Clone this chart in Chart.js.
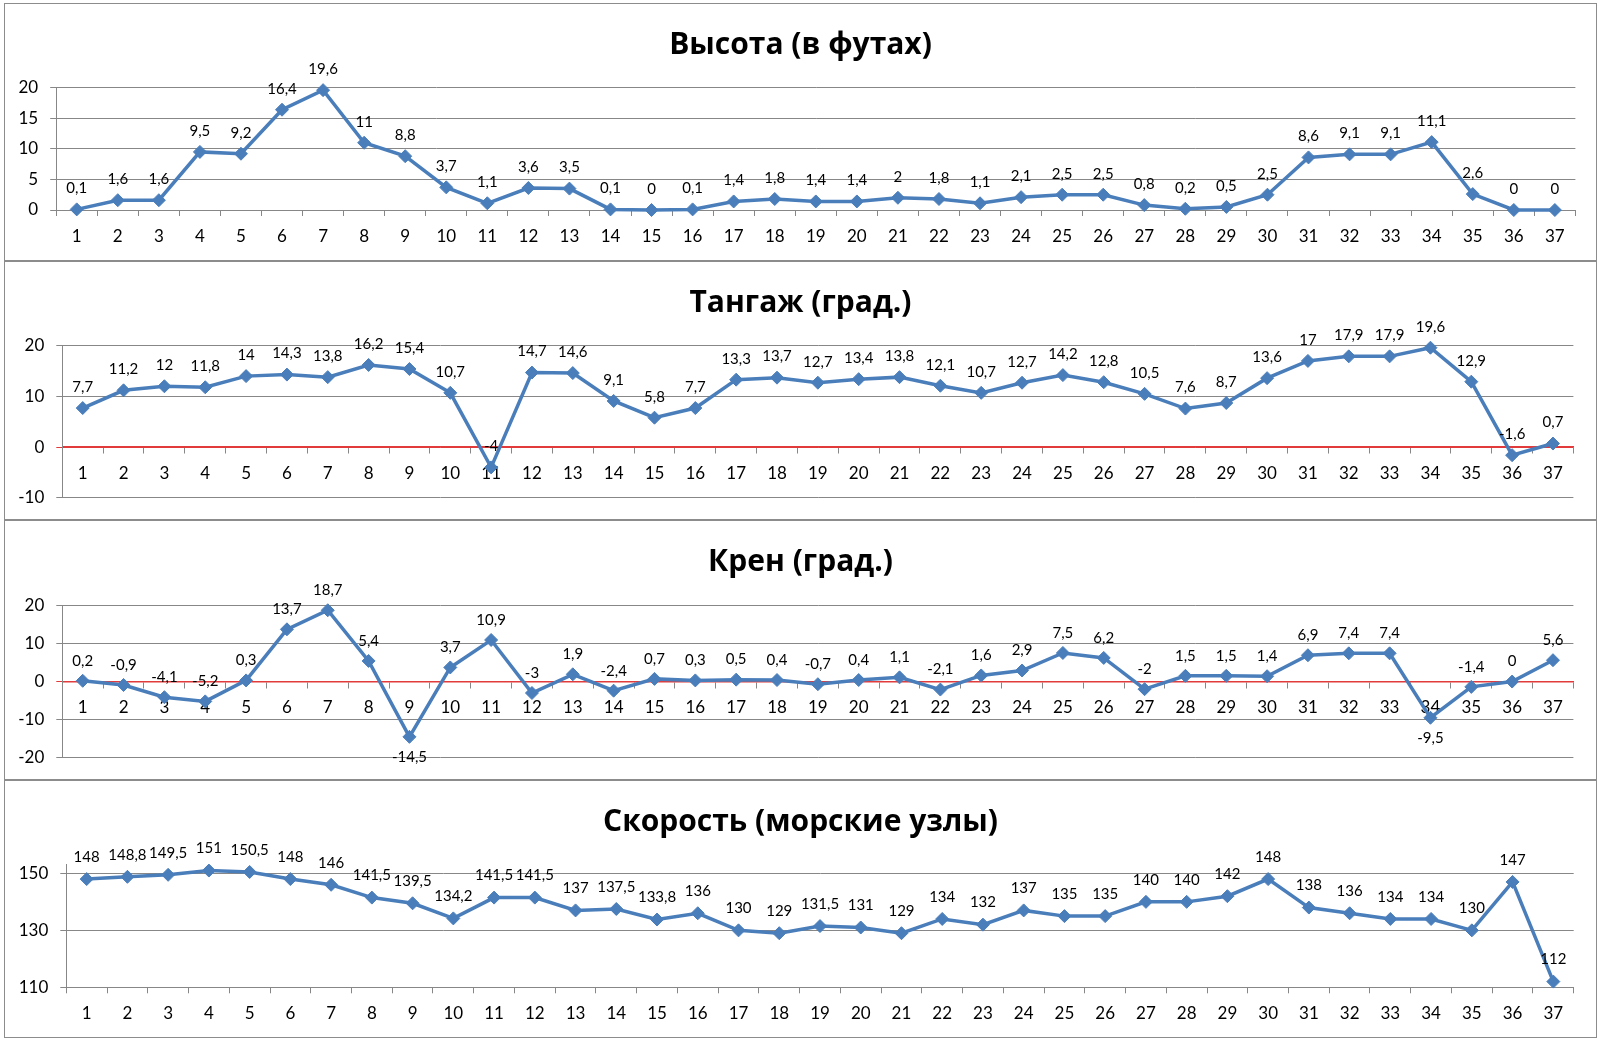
<!DOCTYPE html>
<html>
<head>
<meta charset="utf-8">
<script src="https://cdn.jsdelivr.net/npm/chart.js@4.4.1/dist/chart.umd.min.js"></script>
<style>
  html, body { margin: 0; padding: 0; background: #fff; }
  body { width: 1600px; height: 1041px; position: relative; overflow: hidden; }
  .panel { position: absolute; left: 4px; width: 1593px; box-sizing: border-box; border: 1px solid #8c8c8c; background: #fff; }
  .panel canvas { position: absolute; left: -1px; top: -1px; }
</style>
</head>
<body>
<div class="panel" id="p1" style="top:3px;height:258px"><canvas id="c1"></canvas></div>
<div class="panel" id="p2" style="top:261px;height:259px"><canvas id="c2"></canvas></div>
<div class="panel" id="p3" style="top:520px;height:260px"><canvas id="c3"></canvas></div>
<div class="panel" id="p4" style="top:780px;height:258px"><canvas id="c4"></canvas></div>
<script>
// ---------- DATA ----------
const categories = ['1','2','3','4','5','6','7','8','9','10','11','12','13','14','15','16','17','18','19','20',
  '21','22','23','24','25','26','27','28','29','30','31','32','33','34','35','36','37'];

const altitude = [0.1, 1.6, 1.6, 9.5, 9.2, 16.4, 19.6, 11, 8.8, 3.7, 1.1, 3.6, 3.5, 0.1, 0, 0.1, 1.4, 1.8, 1.4, 1.4,
  2, 1.8, 1.1, 2.1, 2.5, 2.5, 0.8, 0.2, 0.5, 2.5, 8.6, 9.1, 9.1, 11.1, 2.6, 0, 0];

const pitch = [7.7, 11.2, 12, 11.8, 14, 14.3, 13.8, 16.2, 15.4, 10.7, -4, 14.7, 14.6, 9.1, 5.8, 7.7, 13.3, 13.7, 12.7, 13.4,
  13.8, 12.1, 10.7, 12.7, 14.2, 12.8, 10.5, 7.6, 8.7, 13.6, 17, 17.9, 17.9, 19.6, 12.9, -1.6, 0.7];

const roll = [0.2, -0.9, -4.1, -5.2, 0.3, 13.7, 18.7, 5.4, -14.5, 3.7, 10.9, -3, 1.9, -2.4, 0.7, 0.3, 0.5, 0.4, -0.7, 0.4,
  1.1, -2.1, 1.6, 2.9, 7.5, 6.2, -2, 1.5, 1.5, 1.4, 6.9, 7.4, 7.4, -9.5, -1.4, 0, 5.6];

const speed = [148, 148.8, 149.5, 151, 150.5, 148, 146, 141.5, 139.5, 134.2, 141.5, 141.5, 137, 137.5, 133.8, 136, 130, 129, 131.5, 131,
  129, 134, 132, 137, 135, 135, 140, 140, 142, 148, 138, 136, 134, 134, 130, 147, 112];

const altitudeTicks = [0, 5, 10, 15, 20];
const pitchTicks = [-10, 0, 10, 20];
const rollTicks = [-20, -10, 0, 10, 20];
const speedTicks = [110, 130, 150];

const titles = ['Высота (в футах)', 'Тангаж (град.)', 'Крен (град.)', 'Скорость (морские узлы)'];

// ---------- STYLE ----------
const FONT = 'Lato, "Open Sans", "DejaVu Sans", sans-serif';
const TITLE_FONT = '"Open Sans", "Noto Sans", sans-serif';
const LINE = '#4A7EBB';
const GRID = '#878787';
const ZERO = '#E23B3B';

const valueLabels = {
  id: 'valueLabels',
  afterDatasetsDraw(chart, args, opts) {
    const ctx = chart.ctx;
    const meta = chart.getDatasetMeta(0);
    const data = chart.data.datasets[0].data;
    const below = opts.below || [];
    ctx.save();
    ctx.font = '15px ' + FONT;
    ctx.fillStyle = '#000';
    ctx.textAlign = 'center';
    ctx.textBaseline = 'middle';
    meta.data.forEach((pt, i) => {
      const txt = String(data[i]).replace('.', ',');
      const dy = below.includes(i) ? 20 : -(opts.offset || 21);
      ctx.fillText(txt, pt.x, pt.y + dy);
    });
    ctx.restore();
  }
};

const panelTitle = {
  id: 'panelTitle',
  afterDraw(chart, args, opts) {
    const ctx = chart.ctx;
    ctx.save();
    ctx.font = 'bold 30px ' + TITLE_FONT;
    ctx.fillStyle = '#000';
    ctx.textAlign = 'center';
    ctx.textBaseline = 'alphabetic';
    ctx.fillText(opts.text, opts.x, opts.y);
    ctx.restore();
  }
};

function makePanel(canvasId, w, h, area, series, title, yMin, yMax, tickVals, centered, below, labelOffset) {
  const cv = document.getElementById(canvasId);
  cv.width = w; cv.height = h;
  cv.style.width = w + 'px'; cv.style.height = h + 'px';
  return new Chart(cv, {
    type: 'line',
    data: {
      labels: categories,
      datasets: [{
        data: series,
        borderColor: LINE,
        backgroundColor: LINE,
        borderWidth: 3.5,
        tension: 0,
        pointStyle: 'rectRot',
        pointRadius: 6.5,
        pointBorderWidth: 1,
        pointBackgroundColor: LINE,
        pointBorderColor: LINE,
        clip: false
      }]
    },
    options: {
      responsive: false,
      animation: false,
      devicePixelRatio: 1,
      layout: { padding: { left: 0, top: area.top, right: w - area.right, bottom: 0 } },
      plugins: {
        legend: { display: false },
        tooltip: { enabled: false },
        title: { display: false },
        valueLabels: { below: below, offset: labelOffset },
        panelTitle: { text: title, x: w / 2, y: 50.5 }
      },
      scales: {
        x: {
          type: 'category',
          position: centered ? { y: 0 } : 'bottom',
          offset: true,
          afterFit(s) { s.height = h - area.bottom; },
          grid: { display: true, offset: true, drawOnChartArea: false, drawTicks: true, tickLength: 6, color: GRID, lineWidth: 1 },
          border: { display: true, color: centered ? ZERO : GRID, width: centered ? 1.5 : 1 },
          ticks: { autoSkip: false, maxRotation: 0, minRotation: 0, padding: 10, color: '#000', font: { family: FONT, size: 17 } }
        },
        y: {
          type: 'linear',
          min: yMin,
          max: yMax,
          afterFit(s) { s.width = area.left; },
          afterBuildTicks(s) { s.ticks = tickVals.map(v => ({ value: v })); },
          grid: {
            color: (c) => (centered && c.tick && c.tick.value === 0) ? ZERO : GRID,
            lineWidth: 1,
            tickLength: 6,
            drawTicks: true
          },
          border: { display: true, color: GRID, width: 1 },
          ticks: { padding: 12, color: '#000', font: { family: FONT, size: 17 }, callback: (v) => String(v) }
        }
      }
    },
    plugins: [valueLabels, panelTitle]
  });
}

makePanel('c1', 1593, 258, { left: 52.2, right: 1571.4, top: 84.7, bottom: 207 },
  altitude, titles[0], 0, 20, altitudeTicks, false, [], 21);
makePanel('c2', 1593, 259, { left: 58.3, right: 1569.4, top: 84.7, bottom: 234.7 },
  pitch, titles[1], -10, 20, pitchTicks, true, [], 21);
makePanel('c3', 1593, 260, { left: 58.3, right: 1569.4, top: 85.3, bottom: 235.7 },
  roll, titles[2], -20, 20, rollTicks, true, [8, 33], 20);
makePanel('c4', 1593, 258, { left: 62.3, right: 1569.7, top: 84, bottom: 207.3 },
  speed, titles[3], 110, 153.3, speedTicks, false, [], 22);
</script>
</body>
</html>
